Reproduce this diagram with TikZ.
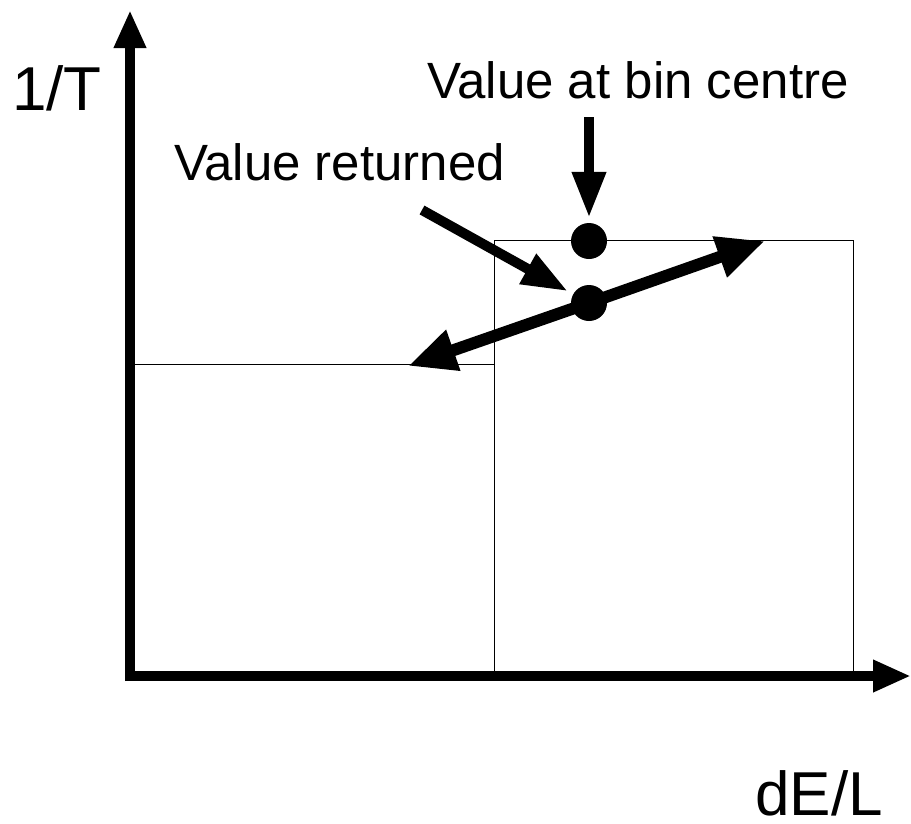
\documentclass[tikz,border=0pt]{standalone}
\usepackage{fontspec}
\setmainfont{Liberation Sans}
\usepackage{tikz}
\usetikzlibrary{positioning, arrows.meta}

\tikzset{
  axisline/.style={line width=10pt, -{Triangle[length=38pt, width=30pt]}},
  binline/.style={line width=1pt},
  pointer/.style={line width=10pt, -{Triangle[length=46pt, width=32pt]}},
  slopeline/.style={line width=12pt, -{Triangle[length=48pt, width=40pt]}},
  bigdot/.style={circle, fill=black, inner sep=0pt, minimum size=36pt},
  biglabel/.style={anchor=base west, inner sep=0pt, text depth=0pt, font=\fontsize{62}{70}\selectfont},
  notelabel/.style={anchor=base west, inner sep=0pt, font=\fontsize{51}{56}\selectfont}
}

\begin{document}
\begin{tikzpicture}[x=1pt, y=-1pt]
    \useasboundingbox (0,0) rectangle (911,823);

    % bins
    \draw[binline] (130,364) -| (494,676);
    \draw[binline] (494,676) |- (853,240) -- (853,676);

    % axes
    \coordinate (origin) at (130,676);
    \coordinate (ytip) at (130,10);
    \coordinate (xtip) at (911,676);
    \draw[axisline] (130,681) -- (ytip);
    \draw[axisline] (125,676) -- (xtip);

    \node[biglabel] (lblT) at (12,110) {1/T};
    \node[biglabel] (lblDE) at (755,815) {dE/L};

    % values
    \node[bigdot] (centredot) at (589,241) {};
    \node[bigdot] (retdot) at (589,303) {};
    \coordinate (lowtip) at (408,366);
    \coordinate (hightip) at (765,241);
    \draw[slopeline] (retdot.center) -- (lowtip);
    \draw[slopeline] (retdot.center) -- (hightip);

    \node[notelabel] (lblCentre) at (427,98) {Value at bin centre};
    \node[notelabel] (lblReturned) at (174,180) {Value returned};

    \coordinate (centretail) at (589,117);
    \coordinate (rettail) at (422,210);
    \draw[pointer] (centretail) -- ([yshift=5pt]centredot.north);
    \draw[pointer, shorten >=6pt] (rettail) -- (retdot);
  \end{tikzpicture}
\end{document}
